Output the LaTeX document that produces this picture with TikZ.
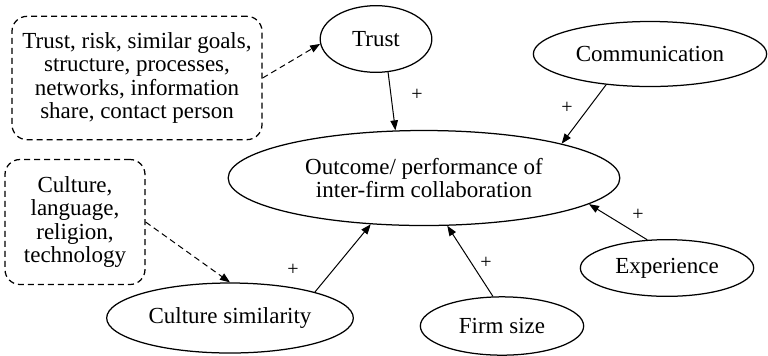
\documentclass[tikz,border=0pt]{standalone}
\usepackage{fontspec}
\setmainfont{Liberation Serif}
\newfontfamily\labelfont{Liberation Serif}
\usetikzlibrary{shapes.geometric, arrows.meta, positioning}

\begin{document}
\begin{tikzpicture}[
  x=0.6pt, y=-0.6pt,
  factor/.style={ellipse, draw, line width=0.75pt, inner sep=0pt,
    font=\labelfont\fontsize{13.8}{14}\selectfont},
  dimbox/.style={rectangle, rounded corners=9pt, draw, line width=0.75pt,
    dash pattern=on 3.6pt off 2.4pt, align=center, inner sep=0pt,
    font=\labelfont\fontsize{13.8}{14}\selectfont},
  arr/.style={-{Triangle[length=6pt, width=4.5pt]}, line width=0.6pt},
  darr/.style={arr, dash pattern=on 3.6pt off 2.4pt},
  plus/.style={font=\labelfont\fontsize{12}{12}\selectfont, inner sep=1pt},
]
  \useasboundingbox (0,0) rectangle (768,355);
  \node[factor, minimum width=235pt, minimum height=57pt, align=center] (outcome)
    at (424,178) {Outcome/ performance of\\inter-firm collaboration};
  \node[factor, minimum width=67pt, minimum height=40pt] (trust) at (376,39) {Trust};
  \node[factor, minimum width=140pt, minimum height=39pt] (comm) at (650,54) {Communication};
  \node[factor, minimum width=148pt, minimum height=42pt] (culture) at (230,318) {Culture similarity};
  \node[factor, minimum width=98pt, minimum height=35pt] (size) at (502,326) {Firm size};
  \node[factor, minimum width=104pt, minimum height=34pt] (exp) at (667,268) {Experience};
  \node[dimbox, minimum width=150pt, minimum height=74pt] (trustdim) at (137,78)
    {Trust, risk, similar goals,\\structure, processes,\\networks, information\\share, contact person};
  \node[dimbox, minimum width=84pt, minimum height=75pt] (culturedim) at (75,222)
    {Culture,\\language,\\religion,\\technology};
  \draw[darr] (trustdim.east) -- (trust.185);
  \draw[darr] (culturedim.east) -- (culture.north);
  \draw[arr] (trust.-70) -- (outcome.121);
  \draw[arr] (comm.215) -- (outcome.14);
  \draw[arr] (culture.17) -- (outcome.221);
  \draw[arr] (size.107) -- (outcome.-64);
  \draw[arr] (exp.125) -- (outcome.-9);
  \node[plus] (p1) at (417,95) {+};
  \node[plus] (p2) at (567,108) {+};
  \node[plus] (p3) at (293,270) {+};
  \node[plus] (p4) at (486,263) {+};
  \node[plus] (p5) at (638,215) {+};
\end{tikzpicture}
\end{document}
